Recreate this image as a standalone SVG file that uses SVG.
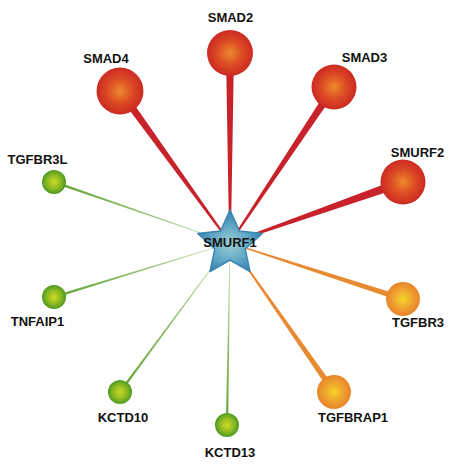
<svg xmlns="http://www.w3.org/2000/svg" width="474" height="468" viewBox="0 0 474 468">
<defs>
<radialGradient id="gRed" cx="0.5" cy="0.5" r="0.5"><stop offset="0" stop-color="#ec8a2c"/><stop offset="0.55" stop-color="#dc4a24"/><stop offset="1" stop-color="#cc2a22"/></radialGradient>
<radialGradient id="gOrange" cx="0.5" cy="0.5" r="0.5"><stop offset="0" stop-color="#f6d428"/><stop offset="0.6" stop-color="#eea030"/><stop offset="1" stop-color="#e8842a"/></radialGradient>
<radialGradient id="gGreen" cx="0.5" cy="0.5" r="0.5"><stop offset="0" stop-color="#cedc22"/><stop offset="0.6" stop-color="#8ab824"/><stop offset="1" stop-color="#4e9a22"/></radialGradient>
<radialGradient id="gStar" cx="0.5" cy="0.55" r="0.5"><stop offset="0" stop-color="#9ccfd4"/><stop offset="0.6" stop-color="#5fa6c4"/><stop offset="1" stop-color="#3a86b4"/></radialGradient>
<linearGradient id="e1" gradientUnits="userSpaceOnUse" x1="230" y1="243" x2="54" y2="182"><stop offset="0" stop-color="#cfe4c0"/><stop offset="1" stop-color="#5ea232"/></linearGradient>
<linearGradient id="e2" gradientUnits="userSpaceOnUse" x1="230" y1="243" x2="54" y2="297"><stop offset="0" stop-color="#cfe4c0"/><stop offset="1" stop-color="#5ea232"/></linearGradient>
<linearGradient id="e3" gradientUnits="userSpaceOnUse" x1="230" y1="243" x2="120" y2="392"><stop offset="0" stop-color="#cfe4c0"/><stop offset="1" stop-color="#5ea232"/></linearGradient>
<linearGradient id="e4" gradientUnits="userSpaceOnUse" x1="230" y1="243" x2="227" y2="425"><stop offset="0" stop-color="#cfe4c0"/><stop offset="1" stop-color="#5ea232"/></linearGradient>
</defs>
<style>
.red{fill:#c8222a}
.orange{fill:#e88a30}
.lbl{font-family:"Liberation Sans",Arial,sans-serif;font-weight:bold;font-size:13px;fill:#111;text-anchor:middle}
</style>
<rect width="474" height="468" fill="#fff"/>
<g id="connectors">
<polygon class="red" points="230.8,243 234,53 226,53 229.2,243"/>
<polygon class="red" points="230.65,242.53 123.24,88.66 116.76,93.34 229.35,243.47"/>
<polygon class="red" points="230.66,243.44 337.33,89.22 330.67,84.78 229.34,242.56"/>
<polygon class="red" points="230.27,243.75 404.5,186.2 401.5,177.8 229.73,242.25"/>
<polygon class="orange" points="229.85,243.48 402.07,301.86 403.93,296.14 230.15,242.52"/>
<polygon class="orange" points="229.59,243.29 331.54,393.72 336.46,390.28 230.41,242.71"/>
<polygon fill="url(#e1)" points="230.10,242.72 54.39,180.87 53.61,183.13 229.90,243.28"/>
<polygon fill="url(#e2)" points="229.91,242.71 53.65,295.85 54.35,298.15 230.09,243.29"/>
<polygon fill="url(#e3)" points="229.76,242.82 119.03,391.29 120.97,392.71 230.24,243.18"/>
<polygon fill="url(#e4)" points="229.7,243 225.8,425 228.2,425 230.3,243"/>
</g>
<g id="SMAD2"><circle cx="230" cy="53" r="23" fill="url(#gRed)"/><text class="lbl" x="230.5" y="22">SMAD2</text></g>
<g id="SMAD4"><circle cx="120" cy="91" r="23.5" fill="url(#gRed)"/><text class="lbl" x="106" y="63">SMAD4</text></g>
<g id="SMAD3"><circle cx="334" cy="87" r="22.5" fill="url(#gRed)"/><text class="lbl" x="364.5" y="62">SMAD3</text></g>
<g id="SMURF2"><circle cx="403" cy="182" r="22.5" fill="url(#gRed)"/><text class="lbl" x="417.5" y="157">SMURF2</text></g>
<g id="TGFBR3L"><circle cx="54" cy="182" r="12" fill="url(#gGreen)"/><text class="lbl" x="37.5" y="164">TGFBR3L</text></g>
<g id="TNFAIP1"><circle cx="54" cy="297" r="12" fill="url(#gGreen)"/><text class="lbl" x="37.5" y="326">TNFAIP1</text></g>
<g id="KCTD10"><circle cx="120" cy="392" r="12" fill="url(#gGreen)"/><text class="lbl" x="123" y="422">KCTD10</text></g>
<g id="KCTD13"><circle cx="227" cy="425" r="12" fill="url(#gGreen)"/><text class="lbl" x="230" y="457">KCTD13</text></g>
<g id="TGFBRAP1"><circle cx="334" cy="392" r="17" fill="url(#gOrange)"/><text class="lbl" x="353" y="422">TGFBRAP1</text></g>
<g id="TGFBR3"><circle cx="403" cy="299" r="17" fill="url(#gOrange)"/><text class="lbl" x="418" y="327">TGFBR3</text></g>
<g id="SMURF1">
<polygon fill="url(#gStar)" stroke="#3a86b4" stroke-width="1.5" stroke-linejoin="round" points="230,210 239.4,231.1 262.3,233.5 245.2,249 250,271.5 230,260 210,271.5 214.8,249 197.7,233.5 220.6,231.1"/>
<text class="lbl" x="230" y="247">SMURF1</text>
</g>
</svg>
